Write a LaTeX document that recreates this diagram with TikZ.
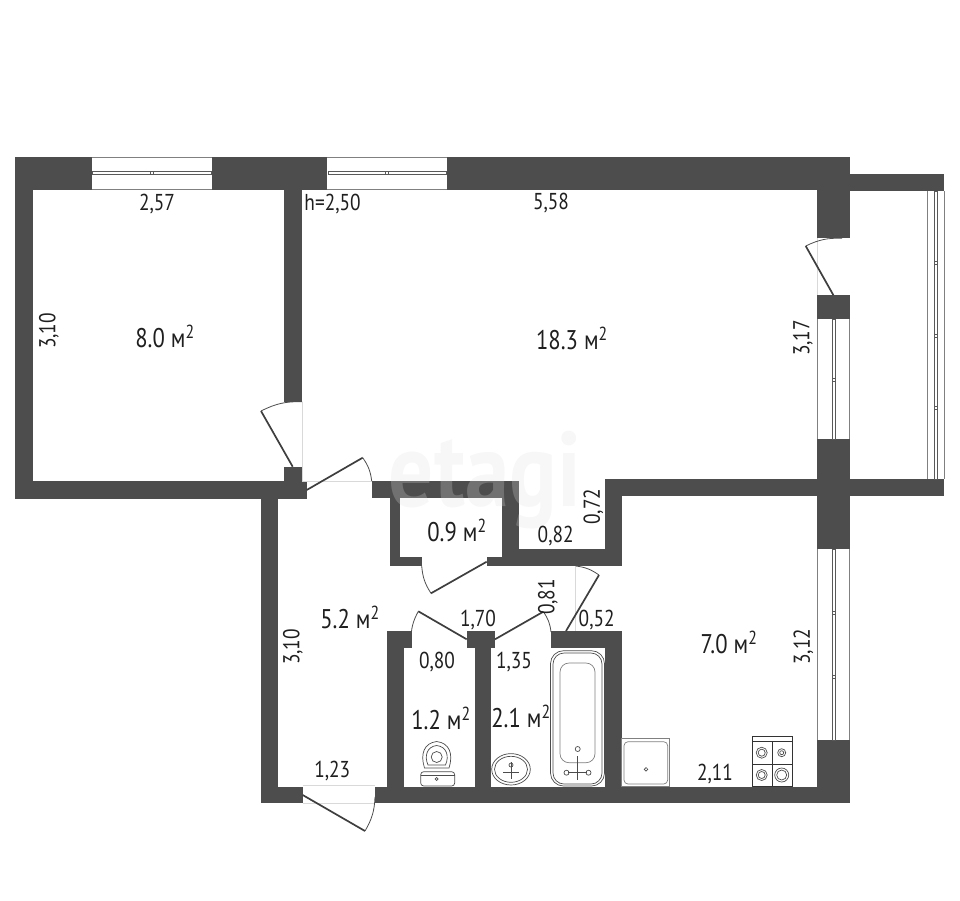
\documentclass[tikz,border=0pt]{standalone}
\usepackage{fontspec}
\setmainfont[FakeStretch=0.84]{PT Sans}
\usepackage{tikz}
\usetikzlibrary{positioning}

\definecolor{wallgray}{HTML}{4D4D4D}
\definecolor{inkgray}{HTML}{1F1F1F}
\tikzset{
  wall/.style={fill=wallgray, draw=none},
  frame/.style={draw=gray, line width=0.9pt},
  pane/.style={draw=gray!70!black, line width=0.6pt, fill=white},
  door/.style={draw=wallgray!80!black, line width=1.7pt},
  swing/.style={draw=wallgray, line width=0.8pt},
  sill/.style={draw=gray!30, line width=0.5pt},
  fixture/.style={draw=gray!60!black, line width=0.7pt},
  dim/.style={font=\fontsize{23}{23}\selectfont, text=inkgray, inner sep=0pt},
  area/.style={font=\fontsize{27}{27}\selectfont, text=inkgray, inner sep=0pt},
}

\begin{document}
\begin{tikzpicture}[x=1pt, y=-1pt]

\useasboundingbox (0, 0) rectangle (960, 900);

% outer walls

\path [wall] (15, 156.7) rectangle (91.7, 190);
\path [wall] (212.3, 156.7) rectangle (327, 190);
\path [wall] (447, 156.7) rectangle (850, 190);
\path [wall] (15, 156.7) rectangle (33, 498.7);
\path [wall] (15, 481) rectangle (306.7, 498.7);
\path [wall] (817, 156.7) rectangle (850, 238.3);
\path [wall] (817, 295) rectangle (850, 319.3);
\path [wall] (817, 439) rectangle (850, 549);
\path [wall] (817, 740) rectangle (850, 802.7);
\path [wall] (850, 174.3) rectangle (944.3, 191);
\path [wall] (850, 479.3) rectangle (944.3, 496);
\path [wall] (261, 481) rectangle (278.3, 802.7);
\path [wall] (261, 786.7) rectangle (302.7, 802.7);
\path [wall] (375, 786.7) rectangle (850, 802.7);

% inner walls

\path [wall] (284, 170) rectangle (302, 401.7);
\path [wall] (284, 466.7) rectangle (302, 490);
\path [wall] (605, 479.3) rectangle (817, 496);
\path [wall] (605, 479.3) rectangle (621.7, 566);
\path [wall] (486.7, 557.3) rectangle (621.7, 566);
\path [wall] (519, 549) rectangle (621.7, 566);
\path [wall] (502.3, 481) rectangle (519.3, 566);
\path [wall] (371.7, 481) rectangle (519.3, 498.3);
\path [wall] (390, 481) rectangle (400, 566);
\path [wall] (390, 557.3) rectangle (421.7, 566);

% bath and toilet walls

\path [wall] (386.7, 631) rectangle (411.7, 648.3);
\path [wall] (386.7, 631) rectangle (404, 790);
\path [wall] (467.3, 631) rectangle (495, 648.3);
\path [wall] (474.7, 631) rectangle (491, 790);
\path [wall] (551, 631) rectangle (621.7, 648.3);
\path [wall] (605, 631) rectangle (621.7, 790);

% windows

\path [frame] (91.7, 157.2) to (212.3, 157.2);
\path [frame] (91.7, 189.5) to (212.3, 189.5);
\path [pane] (92.5, 171.3) rectangle (211.5, 174.3);
\path [pane] (150, 171.3) rectangle (153, 174.3);
\path [frame] (327, 157.2) to (447, 157.2);
\path [frame] (327, 189.5) to (447, 189.5);
\path [pane] (328, 171.3) rectangle (446, 174.3);
\path [pane] (385.5, 171.3) rectangle (388.5, 174.3);

\path [frame] (817.5, 319.3) to (817.5, 439);
\path [frame] (849.5, 319.3) to (849.5, 439);
\path [pane] (832.3, 319.3) rectangle (835.7, 439);
\path [pane] (832.3, 378) rectangle (835.7, 381);

\path [frame] (817.5, 549) to (817.5, 740);
\path [frame] (849.5, 549) to (849.5, 740);
\path [pane] (832.3, 549) rectangle (835.5, 740);
\path [pane] (832.3, 611) rectangle (835.5, 614);
\path [pane] (832.3, 675) rectangle (835.5, 678);

\path [frame] (927.3, 191) to (927.3, 479.3);
\path [frame] (944, 191) to (944, 479.3);
\path [pane] (934, 191) rectangle (937.7, 479.3);
\path [pane] (934, 261) rectangle (937.7, 264);
\path [pane] (934, 334) rectangle (937.7, 337);
\path [pane] (934, 406) rectangle (937.7, 409);

% doors

\path [sill] (302, 401.7) to (302, 481);
\path [sill] (302, 481) to (372, 481);
\path [sill] (817, 238.3) to (817, 295);
\path [sill] (575.7, 566) to (575.7, 631);
\path [sill] (302.7, 785.5) to (375, 785.5);
\path [sill] (302.7, 803) to (375, 803);

\path [door] (292.7, 466.7) to (261, 411);
\path [swing] (261, 411) to [bend left=14] (302, 401.7);
\path [door] (306.7, 490) to (362.7, 457.7);
\path [swing] (362.7, 457.7) to [bend left=14] (371.7, 481);
\path [door] (833.3, 295) to (805.7, 246);
\path [swing] (805.7, 246) to [bend left=14] (842, 238.3);
\path [door] (486.7, 561.7) to (431, 593.3);
\path [swing] (431, 593.3) to [bend left=14] (421.7, 566);
\path [door] (466.7, 639.3) to (418.3, 611.3);
\path [swing] (418.3, 611.3) to [bend right=14] (411, 640);
\path [door] (495, 639.3) to (543.3, 611.7);
\path [swing] (543.3, 611.7) to [bend left=14] (551, 632);
\path [door] (566, 631) to (599, 575);
\path [swing] (599, 575) to [bend right=14] (575.7, 566);
\path [door] (302.7, 795) to (365, 831);
\path [swing] (365, 831) to [bend right=14] (375, 797);

% toilet

\path [fixture] (436.7, 741.5) .. controls (424, 743) and (420, 754) .. (424.5, 768) -- (449, 768) .. controls (453.5, 754) and (449.5, 743) .. (436.7, 741.5);
\path [fixture] (436.7, 745.5) .. controls (427, 746.5) and (424, 756) .. (428, 765) -- (445.5, 765) .. controls (449.5, 756) and (446.5, 746.5) .. (436.7, 745.5);
\path [fixture] (436.7, 757) circle [radius=5.5];
\path [fixture, fill=white, rounded corners=3pt] (420.7, 771.7) rectangle (454.7, 786);
\path [fixture] (420.7, 775) to (454.7, 775);
\path [fixture] (436.7, 779) circle [radius=1.5];

% sink

\path [fixture] (511, 769.3) ellipse [x radius=19.3, y radius=15.7];
\path [fixture] (511, 769.3) ellipse [x radius=16.5, y radius=13];
\path [fixture] (511, 762) to (511, 779);
\path [fixture] (503, 772) to (519, 772);
\path [fixture] (511, 765) circle [radius=2];

% bath

\path [fixture, rounded corners=13pt] (550.5, 650.7) rectangle (604.5, 786);
\path [fixture, rounded corners=11pt] (553, 653) rectangle (602, 784);
\path [fixture, draw=gray, rounded corners=9pt] (560, 663) rectangle (595, 762.7);
\path [fixture] (577.7, 749) circle [radius=2.5];
\path [fixture] (577.7, 756) to (577.7, 780);
\path [fixture] (568, 772.7) to (587, 772.7);
\path [fixture] (566.5, 772.7) circle [radius=2.5];
\path [fixture] (588.5, 772.7) circle [radius=2.5];

% kitchen

\path [fixture, draw=gray] (621.7, 738.7) rectangle (669.3, 786.7);
\path [fixture, draw=gray, rounded corners=4pt] (624, 741.7) rectangle (667.7, 784);
\path [fixture] (646, 769.3) circle [radius=1.8];

\path [fixture, draw=black!80] (752.3, 736.7) rectangle (792, 786.7);
\path [fixture, draw=black!80] (752.3, 741.7) to (792, 741.7);
\path [fixture, draw=black!80] (772.3, 741.7) to (772.3, 786.7);
\path [fixture, draw=black!80] (752.3, 764) to (792, 764);
\path [fixture] (761.7, 752.7) circle [radius=5.5];
\path [fixture] (761.7, 752.7) circle [radius=3.5];
\path [fixture] (781.7, 752.7) circle [radius=4];
\path [fixture] (781.7, 752.7) circle [radius=2];
\path [fixture] (761.7, 775) circle [radius=5.5];
\path [fixture] (761.7, 775) circle [radius=3.5];
\path [fixture] (781.7, 775) circle [radius=7];
\path [fixture] (781.7, 775) circle [radius=5];

% watermark

\node [text=gray!25, text opacity=0.25, font=\fontsize{106}{106}\selectfont\bfseries, inner sep=0pt, anchor=base] at (485, 506) (mark) {etagi};

% sizes

\node [dim] at (157, 204) (width bedroom) {2,57};
\node [dim] at (332.6, 204) (ceiling) {h=2,50};
\node [dim] at (551, 203) (width living) {5,58};
\node [dim, rotate=90] at (49, 331) (height bedroom) {3,10};
\node [dim, rotate=90] at (803, 338) (height living) {3,17};
\node [dim, rotate=90] at (593.3, 506.7) (niche depth) {0,72};
\node [dim] at (555.7, 536) (niche width) {0,82};
\node [dim] at (478, 620) (width hall) {1,70};
\node [dim, rotate=90] at (548, 597) (hall gap) {0,81};
\node [dim] at (596.7, 620) (kitchen gap) {0,52};
\node [dim, rotate=90] at (293, 647) (height hall) {3,10};
\node [dim] at (437, 661.7) (width toilet) {0,80};
\node [dim] at (514, 661.7) (width bath) {1,35};
\node [dim] at (332.3, 770.7) (width entry) {1,23};
\node [dim, rotate=90] at (803.3, 646.7) (height kitchen) {3,12};
\node [dim] at (715, 774) (width kitchen) {2,11};

% areas

\node [area] at (165, 336) (bedroom) {8.0 м\textsuperscript{2}};
\node [area] at (572, 338) (living) {18.3 м\textsuperscript{2}};
\node [area] at (457, 530) (closet) {0.9 м\textsuperscript{2}};
\node [area] at (350, 617) (hall) {5.2 м\textsuperscript{2}};
\node [area] at (441, 718) (toilet) {1.2 м\textsuperscript{2}};
\node [area] at (521, 716) (bathroom) {2.1 м\textsuperscript{2}};
\node [area] at (729, 642) (kitchen) {7.0 м\textsuperscript{2}};

\end{tikzpicture}
\end{document}
